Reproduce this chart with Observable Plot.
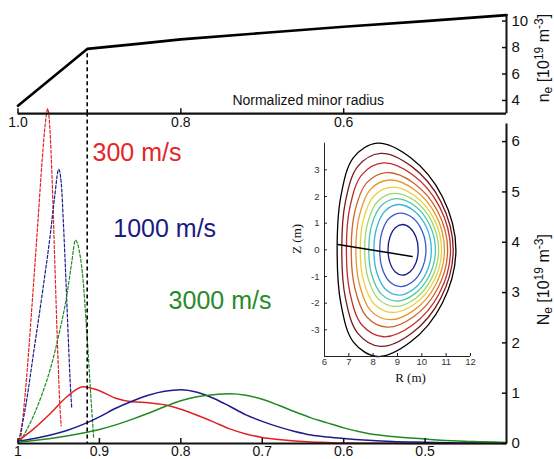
<!DOCTYPE html>
<html>
<head>
<meta charset="utf-8">
<script src="https://cdn.jsdelivr.net/npm/d3@7"></script>
<script src="https://cdn.jsdelivr.net/npm/@observablehq/plot@0.6"></script>
<style>
  html, body { margin: 0; padding: 0; background: #ffffff; }
  #chart { position: relative; width: 554px; height: 459px; overflow: hidden; background: #fff; }
  #chart svg { position: absolute; left: 0; top: 0; }
</style>
</head>
<body>
<div id="chart"></div>
<script>
const FONT = "'Liberation Sans', Arial, Helvetica, sans-serif";
const SERIF = "'Liberation Serif', 'Times New Roman', serif";

// ---------- Top panel: electron density profile ----------
const neR   = [1.0, 0.915, 0.85, 0.8, 0.7, 0.6, 0.5, 0.4];
const neVal = [3.6, 7.9, 8.3, 8.62, 9.1, 9.57, 10.0, 10.45];
const pedestalIndex = 1;
const neTicks = [4, 6, 8, 10];
const neDomain = [3, 10.5];
const topTicks = [1.0, 0.8, 0.6];
const topAxisTitle = "Normalized minor radius";

// ---------- Bottom panel: deposition profiles ----------
const rDomain = [1.0, 0.4];
const NeDomain = [0, 6.35];
const NeTicks = [0, 1, 2, 3, 4, 5, 6];
const bottomTicks = [1, 0.9, 0.8, 0.7, 0.6, 0.5];

const solidR    = [1.0, 0.98, 0.96, 0.94, 0.92, 0.9, 0.88, 0.86, 0.84, 0.82, 0.8, 0.78, 0.76, 0.74, 0.72, 0.7, 0.68, 0.66, 0.64, 0.62, 0.6, 0.57, 0.54, 0.5, 0.46, 0.43, 0.4];
const solid300  = [0.05, 0.3, 0.6, 0.93, 1.13, 1.05, 0.9, 0.83, 0.81, 0.77, 0.68, 0.56, 0.43, 0.29, 0.19, 0.12, 0.08, 0.05, 0.03, 0.02, 0.01, 0.005, 0.003, 0.002, 0.001, 0, 0];
const solid1000 = [0.04, 0.1, 0.17, 0.26, 0.38, 0.53, 0.70, 0.84, 0.96, 1.04, 1.07, 1.02, 0.9, 0.74, 0.57, 0.44, 0.33, 0.24, 0.17, 0.13, 0.1, 0.065, 0.04, 0.025, 0.012, 0.006, 0.003];
const solid3000 = [0.03, 0.06, 0.1, 0.15, 0.21, 0.28, 0.37, 0.48, 0.6, 0.73, 0.85, 0.93, 0.97, 0.99, 0.96, 0.88, 0.76, 0.63, 0.51, 0.41, 0.31, 0.2, 0.14, 0.09, 0.05, 0.035, 0.02];

const dash300R  = [0.997, 0.99, 0.983, 0.976, 0.97, 0.9665, 0.9635, 0.961, 0.958, 0.955, 0.952, 0.949, 0.947];
const dash300   = [0.05, 1.2, 2.7, 4.3, 5.7, 6.35, 6.65, 6.3, 5.2, 3.7, 2.2, 0.9, 0.35];
const dash1000R = [0.999, 0.99, 0.98, 0.97, 0.96, 0.955, 0.95, 0.947, 0.944, 0.941, 0.938, 0.9355, 0.934];
const dash1000  = [0.05, 0.8, 1.9, 3.0, 4.2, 4.9, 5.45, 5.2, 4.3, 3.2, 2.0, 1.1, 0.7];
const dash3000R = [0.997, 0.99, 0.981, 0.97, 0.96, 0.95, 0.94, 0.934, 0.9295, 0.925, 0.921, 0.915, 0.91, 0.907];
const dash3000  = [0.05, 0.25, 0.55, 1.0, 1.5, 2.15, 2.95, 3.6, 4.04, 3.85, 3.4, 2.1, 0.8, 0.1];

const speedLabels = ["300 m/s", "1000 m/s", "3000 m/s"];
const speedLabelR = [0.9085, 0.883, 0.815];
const speedLabelV = [5.78, 4.27, 2.84];
const lineColors  = ["#e02222", "#1c1c8c", "#1f8a1f"];
const textColors  = ["#e3262a", "#1a1a80", "#2a8a2a"];

// ---------- Inset: flux surfaces ----------
const RDomain = [6, 12];
const ZDomain = [-4, 4];
const RTicks = [6, 7, 8, 9, 10, 11, 12];
const ZTicks = [-3, -2, -1, 0, 1, 2, 3];
const fluxColors = ["#000000", "#7a1c1c", "#c42a2a", "#c8642a", "#e8962e", "#e8d23c", "#9ed86a", "#4cc8a8", "#38b4dc", "#3a5ad0", "#161a8c"];
const fluxSurfaces = [
  [[11.40,0],[10.84,2.0],[9.53,3.46],[8.17,4.0],[7.19,3.46],[6.67,2.0],[6.52,0],[6.67,-2.0],[7.19,-3.46],[8.17,-4.0],[9.53,-3.46],[10.84,-2.0]],
  [[11.29,0],[10.78,1.81],[9.58,3.13],[8.30,3.62],[7.37,3.13],[6.86,1.81],[6.71,0],[6.86,-1.81],[7.37,-3.13],[8.30,-3.62],[9.58,-3.13],[10.78,-1.81]],
  [[11.18,0],[10.72,1.63],[9.62,2.82],[8.43,3.26],[7.54,2.82],[7.05,1.63],[6.90,0],[7.05,-1.63],[7.54,-2.82],[8.43,-3.26],[9.62,-2.82],[10.72,-1.63]],
  [[11.06,0],[10.65,1.45],[9.66,2.51],[8.57,2.9],[7.73,2.51],[7.25,1.45],[7.10,0],[7.25,-1.45],[7.73,-2.51],[8.57,-2.9],[9.66,-2.51],[10.65,-1.45]],
  [[10.93,0],[10.57,1.31],[9.67,2.27],[8.68,2.62],[7.89,2.27],[7.44,1.31],[7.29,0],[7.44,-1.31],[7.89,-2.27],[8.68,-2.62],[9.67,-2.27],[10.57,-1.31]],
  [[10.81,0],[10.49,1.18],[9.69,2.04],[8.78,2.35],[8.05,2.04],[7.61,1.18],[7.47,0],[7.61,-1.18],[8.05,-2.04],[8.78,-2.35],[9.69,-2.04],[10.49,-1.18]],
  [[10.69,0],[10.41,1.06],[9.71,1.84],[8.88,2.12],[8.21,1.84],[7.79,1.06],[7.65,0],[7.79,-1.06],[8.21,-1.84],[8.88,-2.12],[9.71,-1.84],[10.41,-1.06]],
  [[10.56,0],[10.31,0.96],[9.69,1.66],[8.96,1.92],[8.34,1.66],[7.95,0.96],[7.82,0],[7.95,-0.96],[8.34,-1.66],[8.96,-1.92],[9.69,-1.66],[10.31,-0.96]],
  [[10.39,0],[10.19,0.85],[9.67,1.47],[9.05,1.7],[8.50,1.47],[8.15,0.85],[8.03,0],[8.15,-0.85],[8.50,-1.47],[9.05,-1.7],[9.67,-1.47],[10.19,-0.85]],
  [[10.17,0],[10.02,0.69],[9.62,1.20],[9.13,1.38],[8.68,1.20],[8.37,0.69],[8.27,0],[8.37,-0.69],[8.68,-1.20],[9.13,-1.38],[9.62,-1.20],[10.02,-0.69]],
  [[9.85,0],[9.76,0.48],[9.52,0.82],[9.20,0.95],[8.90,0.82],[8.69,0.48],[8.61,0],[8.69,-0.48],[8.90,-0.82],[9.20,-0.95],[9.52,-0.82],[9.76,-0.48]]
];
const chordR = [6.55, 9.6];
const chordZ = [0.2, -0.25];

// ---------- build tables ----------
const W = 554, H = 459;
const neData = neR.map((r, i) => ({r, v: neVal[i]}));
const solidSeries = [solid300, solid1000, solid3000].map(vals => solidR.map((r, i) => ({r, v: vals[i]})));
const dashSeries = [[dash300R, dash300], [dash1000R, dash1000], [dash3000R, dash3000]]
  .map(([rs, vs]) => rs.map((r, i) => ({r, v: vs[i]})));
const speedTable = speedLabels.map((t, i) => ({t, r: speedLabelR[i], v: speedLabelV[i], c: textColors[i]}));
const chord = chordR.map((R, i) => [R, chordZ[i]]);

const baseStyle = {background: "transparent", fontFamily: FONT, color: "#111", overflow: "visible"};
const AX = "#111";
const plain = d => String(d);

// Bottom panel
const bottomPanel = Plot.plot({
  width: W, height: H,
  marginLeft: 17.5, marginRight: 48, marginTop: 123.5, marginBottom: 16,
  style: {...baseStyle, fontSize: "14px"},
  x: {domain: rDomain, label: null},
  y: {domain: NeDomain, label: null},
  marks: [
    ...dashSeries.map((d, i) => Plot.line(d, {x: "r", y: "v", stroke: lineColors[i], strokeWidth: 1.2, strokeDasharray: "3,2", curve: "monotone-x"})),
    ...solidSeries.map((d, i) => Plot.line(d, {x: "r", y: "v", stroke: lineColors[i], strokeWidth: 1.5, curve: "monotone-x"})),
    Plot.ruleX([neR[pedestalIndex]], {stroke: "#000", strokeWidth: 1.6, strokeDasharray: "4,3", insetTop: -11}),
    Plot.ruleY([NeDomain[0]], {stroke: AX, strokeWidth: 2.2}),
    Plot.ruleX([rDomain[1]], {stroke: AX, strokeWidth: 2}),
    Plot.axisX(bottomTicks, {anchor: "bottom", tickSize: 5, dy: -5, tickFormat: () => "", stroke: AX, strokeWidth: 1.5, label: null}),
    Plot.axisX(bottomTicks, {anchor: "bottom", tickSize: 0, tickPadding: 3, tickFormat: plain, fontSize: 14, fill: "#111", label: null}),
    Plot.axisY(NeTicks, {anchor: "right", tickSize: 5, dx: -5, tickFormat: () => "", stroke: AX, strokeWidth: 1.5, label: null}),
    Plot.axisY(NeTicks, {anchor: "right", tickSize: 0, tickPadding: 5, tickFormat: plain, fontSize: 15, fill: "#111", label: null}),
    Plot.text(speedTable, {x: "r", y: "v", text: "t", fill: "c", textAnchor: "start", fontSize: 25, fontFamily: FONT}),
    Plot.text(["Ne-title"], {frameAnchor: "right", dx: 37, dy: -4, rotate: -90, textAnchor: "middle", lineAnchor: "middle", fontSize: 16, fill: "#111"})
  ]
});

// Top panel
const topPanel = Plot.plot({
  width: W, height: H,
  marginLeft: 17.5, marginRight: 48, marginTop: 14, marginBottom: H - 113.2,
  style: {...baseStyle, fontSize: "14px"},
  x: {domain: rDomain, label: null},
  y: {domain: neDomain, label: null},
  marks: [
    Plot.line(neData, {x: "r", y: "v", stroke: "#000", strokeWidth: 2.6}),
    Plot.ruleX([neData[pedestalIndex]], {x: "r", y1: neDomain[0], y2: "v", stroke: "#000", strokeWidth: 1.6, strokeDasharray: "4,3"}),
    Plot.ruleY([neDomain[0]], {stroke: AX, strokeWidth: 2.2}),
    Plot.ruleX([rDomain[1]], {stroke: AX, strokeWidth: 2}),
    Plot.axisX(topTicks, {anchor: "bottom", tickSize: 5, dy: -5, tickFormat: () => "", stroke: AX, strokeWidth: 1.5, label: null}),
    Plot.axisX(topTicks, {anchor: "bottom", tickSize: 0, tickPadding: 3, tickFormat: d => d.toFixed(1), fontSize: 14, fill: "#111", label: null}),
    Plot.axisY(neTicks, {anchor: "right", tickSize: 5, dx: -5, tickFormat: () => "", stroke: AX, strokeWidth: 1.5, label: null}),
    Plot.axisY(neTicks, {anchor: "right", tickSize: 0, tickPadding: 5, tickFormat: plain, fontSize: 15, fill: "#111", label: null}),
    Plot.text([topAxisTitle], {frameAnchor: "bottom", dx: 46, dy: -13, textAnchor: "middle", lineAnchor: "middle", fontSize: 14, fill: "#111"}),
    Plot.text(["ne-title"], {frameAnchor: "right", dx: 37, dy: -6, rotate: -90, textAnchor: "middle", lineAnchor: "middle", fontSize: 16, fill: "#111"})
  ]
});

// Inset
const insetPanel = Plot.plot({
  width: W, height: H,
  marginLeft: 324, marginRight: 84, marginTop: 142.7, marginBottom: 103,
  style: {...baseStyle, fontSize: "10px"},
  x: {domain: RDomain, label: null},
  y: {domain: ZDomain, label: null},
  marks: [
    ...fluxSurfaces.map((pts, i) => Plot.line(pts, {stroke: fluxColors[i], strokeWidth: 1.3, curve: "catmull-rom-closed"})),
    Plot.line(chord, {stroke: "#000", strokeWidth: 1.4}),
    Plot.ruleX([RDomain[0]], {stroke: "#222", strokeWidth: 1}),
    Plot.ruleY([ZDomain[0]], {stroke: "#222", strokeWidth: 1}),
    Plot.axisX(RTicks, {anchor: "bottom", tickSize: 3, dy: -3, tickFormat: () => "", stroke: "#222", label: null}),
    Plot.axisX(RTicks, {anchor: "bottom", tickSize: 0, tickPadding: 2, tickFormat: plain, fontSize: 9.5, fill: "#333", label: null}),
    Plot.axisY(ZTicks, {anchor: "left", tickSize: 3, dx: 3, tickFormat: () => "", stroke: "#222", label: null}),
    Plot.axisY(ZTicks, {anchor: "left", tickSize: 0, tickPadding: 5, tickFormat: plain, fontSize: 9.5, fill: "#333", label: null}),
    Plot.text(["R (m)"], {frameAnchor: "bottom", dx: 13, dy: 21, textAnchor: "middle", lineAnchor: "middle", fontFamily: SERIF, fontSize: 13, fill: "#111"}),
    Plot.text(["Z (m)"], {frameAnchor: "left", dx: -28, dy: -11, rotate: -90, textAnchor: "middle", lineAnchor: "middle", fontFamily: SERIF, fontSize: 13, fill: "#111"})
  ]
});

const host = document.getElementById("chart");
host.append(bottomPanel, topPanel, insetPanel);

// rich axis titles (subscript / superscripts)
function richTitle(svg, key, letter) {
  d3.select(svg).selectAll("text").filter(function() { return this.textContent === key; }).each(function() {
    const t = d3.select(this);
    t.text(null);
    t.append("tspan").text(letter);
    t.append("tspan").attr("font-size", "12px").attr("dy", "3px").text("e");
    t.append("tspan").attr("dy", "-3px").text(" [10");
    t.append("tspan").attr("font-size", "12px").attr("dy", "-6px").text("19");
    t.append("tspan").attr("dy", "6px").text(" m");
    t.append("tspan").attr("font-size", "12px").attr("dy", "-6px").text("-3");
    t.append("tspan").attr("dy", "6px").text("]");
  });
}
richTitle(topPanel, "ne-title", "n");
richTitle(bottomPanel, "Ne-title", "N");
</script>
</body>
</html>
